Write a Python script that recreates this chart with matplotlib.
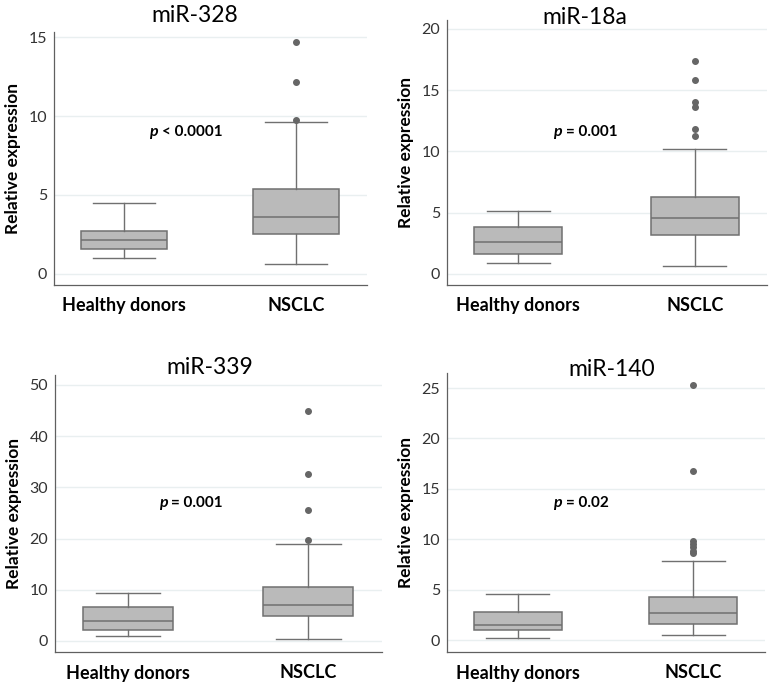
import matplotlib
matplotlib.use('Agg')
import matplotlib.pyplot as plt
import matplotlib.transforms as mtransforms

plt.rcParams['font.family'] = ['Lato', 'DejaVu Sans']

groups = ['Healthy donors', 'NSCLC']
mirnas = ['miR-328', 'miR-18a', 'miR-339', 'miR-140']
p_labels = ['< 0.0001', '= 0.001', '= 0.001', '= 0.02']
p_height = [9.0, 11.6, 27.0, 13.6]
y_ticks = [[0, 5, 10, 15], [0, 5, 10, 15, 20], [0, 10, 20, 30, 40, 50],
           [0, 5, 10, 15, 20, 25]]

# five-number summaries: whisker low, q1, median, q3, whisker high
healthy_328 = [1.0, 1.6, 2.15, 2.75, 4.5]
nsclc_328 = [0.6, 2.5, 3.6, 5.4, 9.65]
out_328 = [9.75, 12.15, 14.7]

healthy_18a = [0.9, 1.65, 2.65, 3.8, 5.15]
nsclc_18a = [0.65, 3.2, 4.6, 6.25, 10.2]
out_18a = [11.3, 11.8, 13.6, 14.05, 15.85, 17.35]

healthy_339 = [1.0, 2.1, 4.0, 6.6, 9.3]
nsclc_339 = [0.4, 4.9, 7.1, 10.6, 18.9]
out_339 = [19.8, 25.6, 32.6, 45.0]

healthy_140 = [0.2, 1.0, 1.5, 2.75, 4.6]
nsclc_140 = [0.5, 1.6, 2.7, 4.3, 7.85]
out_140 = [8.6, 8.8, 9.2, 9.5, 9.8, 16.8, 25.3]

panels = [
    (healthy_328, nsclc_328, out_328),
    (healthy_18a, nsclc_18a, out_18a),
    (healthy_339, nsclc_339, out_339),
    (healthy_140, nsclc_140, out_140),
]

W, H = 771, 689
# axes boxes in pixels: left, top, right, bottom
ax_px = [(54, 32, 367, 285), (447, 20, 767, 285), (55, 375, 382, 652), (447, 373, 765, 652)]
ylims = [(-0.70, 15.32), (-0.90, 20.73), (-2.15, 51.95), (-1.19, 26.49)]
title_px = [(195, 15), (585, 17), (210, 367), (612, 370)]
p_split = [0.207, 0.257, 0.229, 0.26]

fig = plt.figure(figsize=(W / 100, H / 100), dpi=100)

box_fc = '#bababa'
edge = '#707070'

for i, (hd, ns, outs) in enumerate(panels):
    l, t, r, b = ax_px[i]
    ax = fig.add_axes([l / W, 1 - b / H, (r - l) / W, (b - t) / H])
    stats = []
    for five, fl, lab in [(hd, [], groups[0]), (ns, outs, groups[1])]:
        stats.append(dict(whislo=five[0], q1=five[1], med=five[2], q3=five[3],
                          whishi=five[4], fliers=fl, label=lab))
    ax.bxp(stats, positions=[0, 1], widths=0.5, patch_artist=True,
           showfliers=True, capwidths=0.36,
           boxprops=dict(facecolor=box_fc, edgecolor=edge, linewidth=1.1),
           medianprops=dict(color=edge, linewidth=1.1),
           whiskerprops=dict(color=edge, linewidth=1.0),
           capprops=dict(color=edge, linewidth=1.0),
           flierprops=dict(marker='o', markerfacecolor='#666666',
                           markeredgecolor='#666666', markersize=4))
    ax.set_xlim(-0.405, 1.41)
    ax.set_ylim(*ylims[i])
    ax.set_yticks(y_ticks[i])
    ax.tick_params(axis='y', length=0, labelsize=11.5, pad=5, colors='#333333')
    ax.tick_params(axis='x', length=0, labelsize=13, pad=9)
    for lbl in ax.get_xticklabels():
        lbl.set_fontweight('bold')
    ax.yaxis.grid(True, color='#e9eff0', linewidth=1.0)
    ax.set_axisbelow(True)
    for s in ['top', 'right']:
        ax.spines[s].set_visible(False)
    for s in ['left', 'bottom']:
        ax.spines[s].set_color('#606060')
        ax.spines[s].set_linewidth(0.9)
    ax.set_ylabel('Relative expression', fontsize=12.5, fontweight='bold', labelpad=5)

    xs = p_split[i]
    tr_l = mtransforms.offset_copy(ax.transData, fig=fig, x=-1.5, y=0, units='points')
    tr_r = mtransforms.offset_copy(ax.transData, fig=fig, x=1.5, y=0, units='points')
    ax.text(xs, p_height[i], 'p', transform=tr_l, ha='right', va='center',
            fontsize=11.5, fontweight='bold', style='italic')
    ax.text(xs, p_height[i], p_labels[i], transform=tr_r, ha='left', va='center',
            fontsize=11, fontweight='bold')

    tx, ty = title_px[i]
    fig.text(tx / W, 1 - ty / H, mirnas[i], ha='center', va='center', fontsize=16.5)

fig.savefig('out.png', dpi=100)
